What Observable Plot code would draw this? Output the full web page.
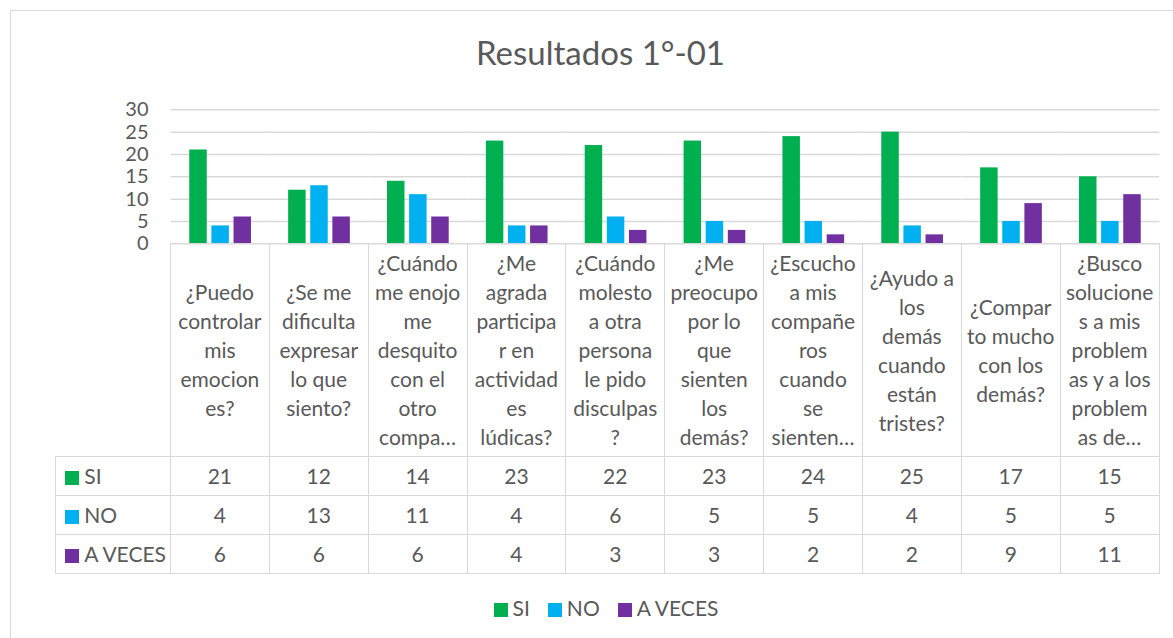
<!DOCTYPE html>
<html>
<head>
<meta charset="utf-8">
<script src="https://cdn.jsdelivr.net/npm/d3@7"></script>
<script src="https://cdn.jsdelivr.net/npm/@observablehq/plot@0.6"></script>
<style>
  html, body { margin: 0; padding: 0; background: #fff; overflow: hidden; }
  #wrap { position: relative; width: 1173px; height: 638px; font-family: Lato, "Open Sans", sans-serif; color: #595959; }
  #wrap > * { position: absolute; }
  #frame { left: 10px; top: 10px; width: 1300px; height: 800px; border: 1.5px solid #d9d9d9; box-sizing: border-box; }
  #title { left: 0; top: 32px; width: 1201px; text-align: center; font-size: 33px; line-height: 40px; }
  #plot { left: 0; top: 0; }
  #tbl { left: 55.25px; top: 242.5px; border-collapse: collapse; table-layout: fixed; font-size: 21px; }
  #tbl td { border: 1.5px solid #d9d9d9; padding: 0; text-align: center; vertical-align: middle; white-space: nowrap; overflow: hidden; }
  #tbl tr.head td { height: 212px; line-height: 29px; }
  #tbl tr.val td { height: 38px; }
  #tbl td.corner { border-top: none; border-left: none; }
  #tbl td.rowlab { text-align: left; padding-left: 9px; }
  .sw { display: inline-block; width: 14px; height: 14px; margin-right: 5px; vertical-align: -1px; }
  #legend { left: 0; top: 594px; width: 1212px; display: flex; justify-content: center; font-size: 21px; line-height: 28px; }
  #legend span.item { margin: 0 9px; }
</style>
</head>
<body>
<div id="wrap">
  <div id="plot"></div>
  <div id="frame"></div>
  <div id="title"></div>
  <table id="tbl"></table>
  <div id="legend"></div>
</div>
<script>
// ---- data ----
const title = "Resultados 1°-01";
const categories = [
  ["¿Puedo", "controlar", "mis", "emocion", "es?"],
  ["¿Se me", "dificulta", "expresar", "lo que", "siento?"],
  ["¿Cuándo", "me enojo", "me", "desquito", "con el", "otro", "compa…"],
  ["¿Me", "agrada", "participa", "r en", "actividad", "es", "lúdicas?"],
  ["¿Cuándo", "molesto", "a otra", "persona", "le pido", "disculpas", "?"],
  ["¿Me", "preocupo", "por lo", "que", "sienten", "los", "demás?"],
  ["¿Escucho", "a mis", "compañe", "ros", "cuando", "se", "sienten…"],
  ["¿Ayudo a", "los", "demás", "cuando", "están", "tristes?"],
  ["¿Compar", "to mucho", "con los", "demás?"],
  ["¿Busco", "solucione", "s a mis", "problem", "as y a los", "problem", "as de…"]
];
const seriesNames = ["SI", "NO", "A VECES"];
const seriesColors = ["#00B050", "#00B0F0", "#7030A0"];
const si = [21, 12, 14, 23, 22, 23, 24, 25, 17, 15];
const no = [4, 13, 11, 4, 6, 5, 5, 4, 5, 5];
const aveces = [6, 6, 6, 4, 3, 3, 2, 2, 9, 11];
const yTicks = [0, 5, 10, 15, 20, 25, 30];

// ---- build ----
const seriesValues = [si, no, aveces];
const catKeys = categories.map(c => c.join(" "));
const data = [];
catKeys.forEach((k, i) => {
  seriesNames.forEach((s, j) => data.push({cat: k, series: s, value: seriesValues[j][i]}));
});

const chart = Plot.plot({
  width: 1173,
  height: 260,
  marginTop: 109.3,
  marginBottom: 16.7,
  marginLeft: 170.7,
  marginRight: 13.7,
  style: {fontFamily: "Lato, 'Open Sans', sans-serif", fontSize: "20px", color: "#595959", background: "transparent", overflow: "visible"},
  fx: {domain: catKeys, padding: 0, round: false, axis: null},
  x: {domain: seriesNames, paddingInner: 0.21, paddingOuter: 0.84, round: false, axis: null},
  y: {domain: [0, 30], axis: null},
  color: {domain: seriesNames, range: seriesColors},
  marks: [
    Plot.gridY(yTicks, {stroke: "#d9d9d9", strokeOpacity: 1, strokeWidth: 1.5}),
    Plot.axisY(yTicks, {tickSize: 0, tickPadding: 22.7, fontSize: 20, fill: "#595959", label: null}),
    Plot.barY(data, {fx: "cat", x: "series", y: "value", fill: "series"})
  ]
});
document.getElementById("plot").appendChild(chart);

document.getElementById("title").textContent = title;

// data table
const tbl = document.getElementById("tbl");
const colgroup = document.createElement("colgroup");
const c0 = document.createElement("col"); c0.style.width = "114.7px"; colgroup.appendChild(c0);
catKeys.forEach(() => { const c = document.createElement("col"); c.style.width = "98.86px"; colgroup.appendChild(c); });
tbl.appendChild(colgroup);
const head = document.createElement("tr"); head.className = "head";
const corner = document.createElement("td"); corner.className = "corner"; head.appendChild(corner);
categories.forEach(lines => {
  const td = document.createElement("td");
  lines.forEach((l, i) => { if (i) td.appendChild(document.createElement("br")); td.appendChild(document.createTextNode(l)); });
  head.appendChild(td);
});
tbl.appendChild(head);
seriesNames.forEach((s, j) => {
  const tr = document.createElement("tr"); tr.className = "val";
  const lab = document.createElement("td"); lab.className = "rowlab";
  const sw = document.createElement("span"); sw.className = "sw"; sw.style.background = seriesColors[j];
  lab.appendChild(sw); lab.appendChild(document.createTextNode(s));
  tr.appendChild(lab);
  seriesValues[j].forEach(v => { const td = document.createElement("td"); td.textContent = v; tr.appendChild(td); });
  tbl.appendChild(tr);
});

// legend
const legend = document.getElementById("legend");
seriesNames.forEach((s, j) => {
  const it = document.createElement("span"); it.className = "item";
  const sw = document.createElement("span"); sw.className = "sw"; sw.style.background = seriesColors[j];
  it.appendChild(sw); it.appendChild(document.createTextNode(s));
  legend.appendChild(it);
});
</script>
</body>
</html>
